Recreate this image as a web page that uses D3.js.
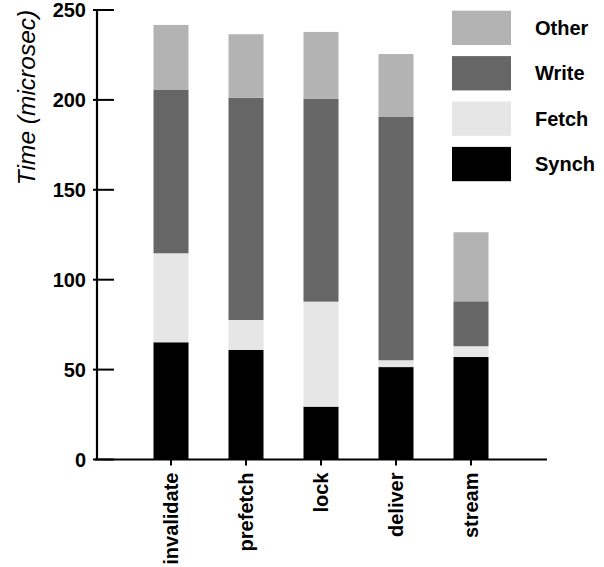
<!DOCTYPE html>
<html>
<head>
<meta charset="utf-8">
<script src="https://cdn.jsdelivr.net/npm/d3@7"></script>
<style>
  html, body { margin: 0; padding: 0; background: #fff; }
  svg { display: block; font-family: "Liberation Sans", Arial, Helvetica, sans-serif; }
</style>
</head>
<body>
<svg id="chart" width="604" height="567"></svg>
<script>
// Per-operation time breakdown (microseconds)
const categories = ["invalidate", "prefetch", "lock", "deliver", "stream"];
const synch = [65.2, 60.9, 29.4, 51.4, 57.0];
const fetch = [49.5, 16.7, 58.4, 3.8, 6.0];
const write = [90.8, 123.6, 112.9, 135.3, 25.0];
const other = [36.2, 35.3, 37.1, 35.0, 38.4];

const seriesNames = ["Synch", "Fetch", "Write", "Other"];
const seriesColors = ["#000000", "#e6e6e6", "#666666", "#b3b3b3"];
const yTicks = [0, 50, 100, 150, 200, 250];
const yLabel = "Time (microsec)";

const rows = categories.map((c, i) => ({
  cat: c, Synch: synch[i], Fetch: fetch[i], Write: write[i], Other: other[i]
}));

const svg = d3.select("#chart");

const y = d3.scaleLinear().domain([0, 250]).range([459.5, 10]);
const x = d3.scaleBand()
  .domain(categories)
  .range([133.5, 508.5])
  .paddingInner(40 / 75)
  .paddingOuter(20 / 75);

const color = d3.scaleOrdinal().domain(seriesNames).range(seriesColors);

const stacked = d3.stack().keys(seriesNames)(rows);

// stacked bars
svg.append("g")
  .selectAll("g")
  .data(stacked)
  .join("g")
  .attr("fill", d => color(d.key))
  .selectAll("rect")
  .data(d => d)
  .join("rect")
  .attr("x", d => x(d.data.cat))
  .attr("width", x.bandwidth())
  .attr("y", d => y(d[1]))
  .attr("height", d => y(d[0]) - y(d[1]));

// y axis: ticks cross the spine, longer on the inside
const yAxis = svg.append("g").attr("transform", "translate(97,0)");
yAxis.append("line")
  .attr("x1", 0).attr("x2", 0)
  .attr("y1", y(250) - 1).attr("y2", y(0))
  .attr("stroke", "#000").attr("stroke-width", 2.2);
yAxis.selectAll("line.tick")
  .data(yTicks)
  .join("line")
  .attr("class", "tick")
  .attr("x1", -4).attr("x2", 17)
  .attr("y1", d => y(d)).attr("y2", d => y(d))
  .attr("stroke", "#000").attr("stroke-width", 2);
yAxis.selectAll("text")
  .data(yTicks)
  .join("text")
  .attr("x", -11)
  .attr("y", d => y(d))
  .attr("dy", "0.36em")
  .attr("text-anchor", "end")
  .attr("font-size", 20)
  .attr("font-weight", "bold")
  .text(d => d);

// x axis
const xAxis = svg.append("g").attr("transform", `translate(0,${y(0)})`);
xAxis.append("line")
  .attr("x1", 95).attr("x2", 547)
  .attr("y1", 0).attr("y2", 0)
  .attr("stroke", "#000").attr("stroke-width", 2.2);
xAxis.selectAll("line.tick")
  .data(categories)
  .join("line")
  .attr("class", "tick")
  .attr("x1", d => x(d) + x.bandwidth() / 2)
  .attr("x2", d => x(d) + x.bandwidth() / 2)
  .attr("y1", 0).attr("y2", 6)
  .attr("stroke", "#000").attr("stroke-width", 2);
xAxis.selectAll("text")
  .data(categories)
  .join("text")
  .attr("transform", d => `translate(${x(d) + x.bandwidth() / 2},13) rotate(-90)`)
  .attr("dy", "0.36em")
  .attr("text-anchor", "end")
  .attr("font-size", 20)
  .attr("font-weight", "bold")
  .text(d => d);

// y axis title
svg.append("text")
  .attr("transform", "translate(26,97.5) rotate(-90)")
  .attr("dy", "0.35em")
  .attr("text-anchor", "middle")
  .attr("font-size", 24.5)
  .attr("font-style", "italic")
  .text(yLabel);

// legend, top entry is the top of the stack
const legendOrder = seriesNames.slice().reverse();
const legend = svg.append("g").selectAll("g")
  .data(legendOrder)
  .join("g")
  .attr("transform", (d, i) => `translate(452,${10.7 + i * 45.4})`);
legend.append("rect")
  .attr("width", 59).attr("height", 34.3)
  .attr("fill", d => color(d));
legend.append("text")
  .attr("x", 83).attr("y", 17)
  .attr("dy", "0.36em")
  .attr("font-size", 20)
  .attr("font-weight", "bold")
  .text(d => d);
</script>
</body>
</html>
